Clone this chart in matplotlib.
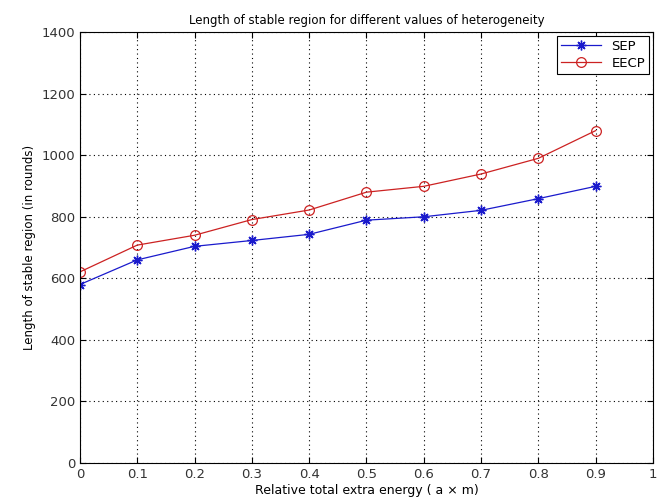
import numpy as np
import matplotlib.pyplot as plt

plt.rcParams['font.family'] = ['DejaVu Sans']

x = [0, 0.1, 0.2, 0.3, 0.4, 0.5, 0.6, 0.7, 0.8, 0.9]
sep = [580, 660, 704, 723, 743, 789, 800, 821, 859, 899]
eecp = [621, 708, 740, 791, 822, 880, 899, 939, 990, 1080]

fig = plt.figure(figsize=(6.62, 5.04), dpi=100)
ax = fig.add_axes([0.1208, 0.0813, 0.8656, 0.855])

# MATLAB-style asterisk: 8 arms
ax.plot(x, sep, '-', marker=(8, 2, 0), color='#1a1acc', linewidth=0.9,
        markersize=7, markeredgewidth=1.0, label='SEP')
ax.plot(x, eecp, '-o', color='#cc2222', linewidth=0.9, markersize=7,
        markerfacecolor='none', markeredgewidth=0.9, label='EECP')

ax.set_xlim(0, 1)
ax.set_ylim(0, 1400)
ax.set_xticks(np.arange(0, 1.01, 0.1))
ax.set_xticklabels(['0', '0.1', '0.2', '0.3', '0.4', '0.5', '0.6', '0.7', '0.8', '0.9', '1'])
ax.set_yticks(range(0, 1401, 200))
ax.tick_params(direction='in', top=True, right=True, labelsize=9.5, length=4,
               labelcolor='#333333')
ax.grid(True, linestyle=(0, (1, 3)), color='black', linewidth=0.8)
for s in ax.spines.values():
    s.set_linewidth(0.8)

ax.set_title('Length of stable region for different values of heterogeneity', fontsize=8.5)
ax.set_xlabel('Relative total extra energy ( a \u00d7 m)', fontsize=9, labelpad=2)
ax.set_ylabel('Length of stable region (in rounds)', fontsize=8.5)

leg = ax.legend(loc='upper right', fontsize=9.5, fancybox=False, framealpha=1,
                edgecolor='black', borderaxespad=0.3, handlelength=3,
                borderpad=0.3, labelspacing=0.3)
leg.get_frame().set_linewidth(0.8)

fig.savefig('out.png', dpi=100)
